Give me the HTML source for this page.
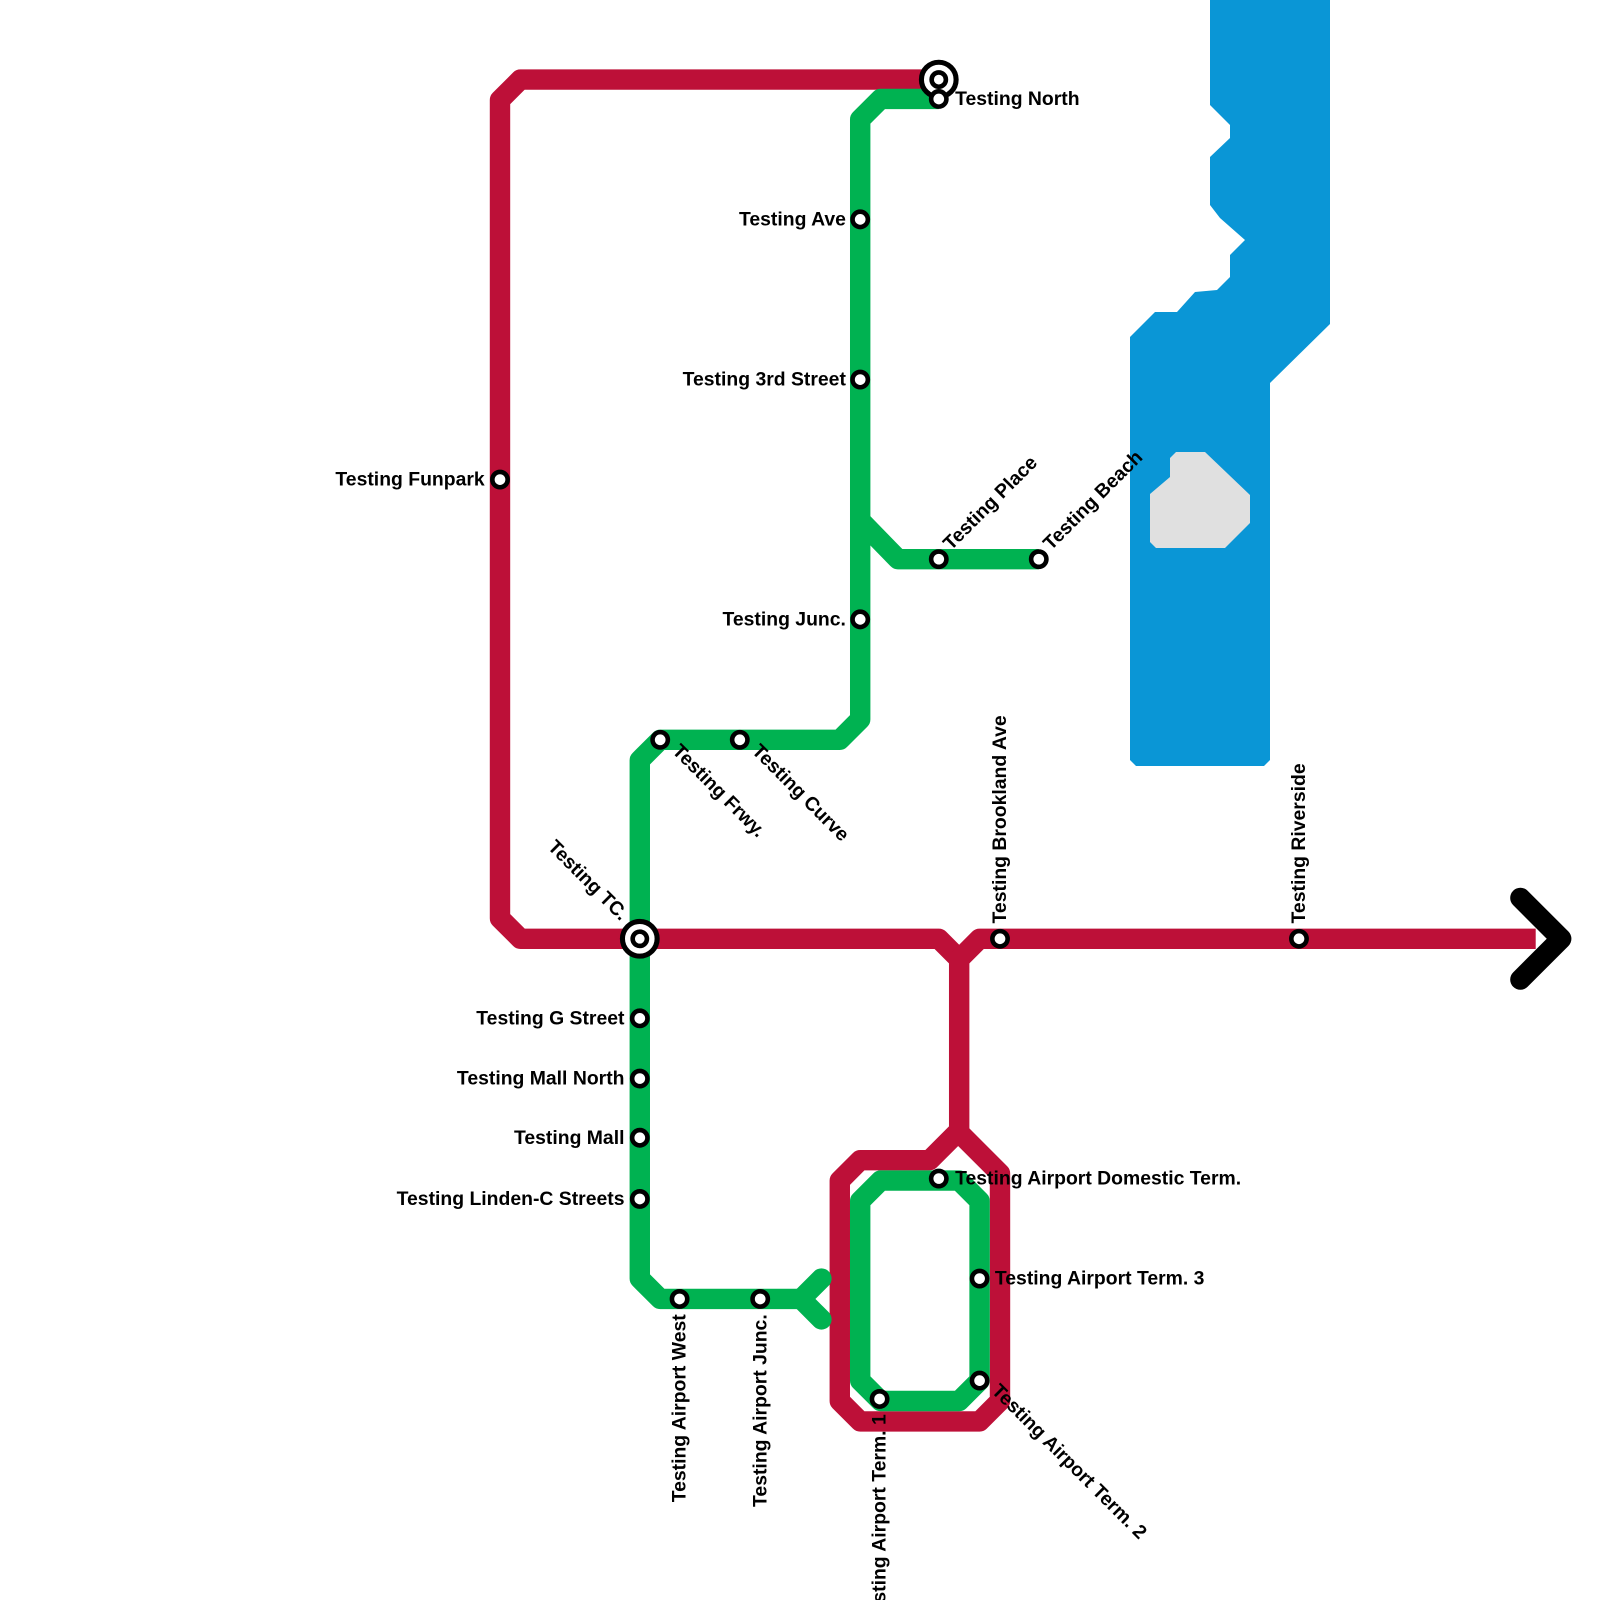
<!DOCTYPE html>
<html><head><meta charset="utf-8"><style>
html,body{margin:0;padding:0;background:#fff;width:1600px;height:1600px;overflow:hidden}
text{font-family:"Liberation Sans",Arial,sans-serif;font-weight:bold;font-size:19px;fill:#000}
</style></head><body>
<svg width="1600" height="1600" viewBox="0 0 1600 1600" xmlns="http://www.w3.org/2000/svg">
<polygon fill="#0a96d6" points="1210,0 1330,0 1330,324 1270,383 1270,760 1264,766 1136,766 1130,760 1130,337 1155,312 1177,312 1195,292 1217,290 1230,277 1230,255 1245,240 1220,218 1210,205 1210,157 1230,138 1230,125 1210,105"/>
<polygon fill="#e0e0e0" points="1176,452 1205,452 1250,495 1250,523 1225,548 1156,548 1150,542 1150,494 1170,477 1170,458"/>
<g transform="scale(1.0204)">
<g fill="none" stroke-linejoin="round" stroke-linecap="butt" stroke-width="20">
<polyline stroke="#bd1038" points="920,78 510,78 490,98 490,900 510,920 920,920 940,940 940,1108 911,1137 843,1137 823,1157 823,1373 843,1393 960,1393 980,1373 980,1150 940,1110 940,1100"/>
<polyline stroke="#bd1038" points="940,940 960,920 1505,920"/>
<polyline stroke="#00b251" points="920,97 863,97 843,117 843,705 823,725 647,725 627,745 627,1253 647,1273 785,1273"/>
<polyline stroke="#00b251" stroke-linecap="round" points="805,1253 785,1273 805,1293"/>
<polyline stroke="#00b251" points="843,510 880,548 1018,548"/>
<polygon stroke="#00b251" points="843,1177 863,1157 940,1157 960,1177 960,1353 940,1373 863,1373 843,1353"/>
<polyline stroke="#000" stroke-linecap="round" points="1490,880 1530,920 1490,960"/>
</g>
<g fill="#fff" stroke="#000" stroke-width="4.5">
<circle cx="920" cy="78" r="17" stroke-width="5"/><circle cx="920" cy="78" r="7"/>
<circle cx="627" cy="920" r="17" stroke-width="5"/><circle cx="627" cy="920" r="7"/>
<circle cx="920" cy="97" r="7.5"/><circle cx="843" cy="215" r="7.5"/><circle cx="843" cy="372" r="7.5"/>
<circle cx="490" cy="470" r="7.5"/><circle cx="843" cy="607" r="7.5"/><circle cx="920" cy="548" r="7.5"/>
<circle cx="1018" cy="548" r="7.5"/><circle cx="647" cy="725" r="7.5"/><circle cx="725" cy="725" r="7.5"/>
<circle cx="627" cy="998" r="7.5"/><circle cx="627" cy="1057" r="7.5"/><circle cx="627" cy="1115" r="7.5"/>
<circle cx="627" cy="1175" r="7.5"/><circle cx="666" cy="1273" r="7.5"/><circle cx="745" cy="1273" r="7.5"/>
<circle cx="862" cy="1371" r="7.5"/><circle cx="920" cy="1155" r="7.5"/><circle cx="960" cy="1253" r="7.5"/>
<circle cx="960" cy="1353" r="7.5"/><circle cx="980" cy="920" r="7.5"/><circle cx="1273" cy="920" r="7.5"/>
</g>
<text x="936" y="103">Testing North</text>
<text x="829" y="221" text-anchor="end">Testing Ave</text>
<text x="829" y="378" text-anchor="end">Testing 3rd Street</text>
<text x="475" y="476" text-anchor="end">Testing Funpark</text>
<text x="829" y="613" text-anchor="end">Testing Junc.</text>
<text transform="translate(932,540) rotate(-45)">Testing Place</text>
<text transform="translate(1030,540) rotate(-45)">Testing Beach</text>
<text transform="translate(658,737) rotate(45)">Testing Frwy.</text>
<text transform="translate(736,737) rotate(45)">Testing Curve</text>
<text transform="translate(608,903) rotate(45)" text-anchor="end">Testing TC.</text>
<text x="612" y="1004" text-anchor="end">Testing G Street</text>
<text x="612" y="1063" text-anchor="end">Testing Mall North</text>
<text x="612" y="1121" text-anchor="end">Testing Mall</text>
<text x="612" y="1181" text-anchor="end">Testing Linden-C Streets</text>
<text transform="translate(672,1288) rotate(-90)" text-anchor="end">Testing Airport West</text>
<text transform="translate(751,1288) rotate(-90)" text-anchor="end">Testing Airport Junc.</text>
<text transform="translate(868,1386) rotate(-90)" text-anchor="end">Testing Airport Term. 1</text>
<text x="936" y="1161">Testing Airport Domestic Term.</text>
<text x="975" y="1259">Testing Airport Term. 3</text>
<text transform="translate(971,1364) rotate(45)">Testing Airport Term. 2</text>
<text transform="translate(986,905) rotate(-90)">Testing Brookland Ave</text>
<text transform="translate(1279,905) rotate(-90)">Testing Riverside</text>
</g>
</svg>
</body></html>
